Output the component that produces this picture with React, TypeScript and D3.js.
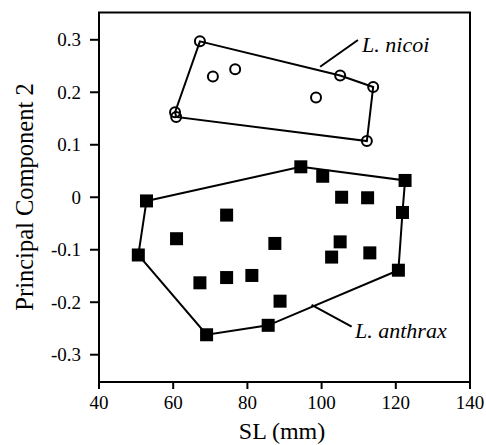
import React from "react";
import * as d3 from "d3";

const nicoiPoints: [number, number][] = [
  [67.2, 0.297],
  [60.5, 0.162],
  [60.8, 0.153],
  [70.7, 0.23],
  [76.7, 0.244],
  [105.0, 0.232],
  [113.9, 0.21],
  [98.5, 0.19],
  [112.2, 0.107],
];

const anthraxPoints: [number, number][] = [
  [94.4, 0.058],
  [100.3, 0.04],
  [122.5, 0.032],
  [105.4, 0.0],
  [112.4, -0.001],
  [121.8, -0.029],
  [52.8, -0.007],
  [74.4, -0.034],
  [60.9, -0.079],
  [50.6, -0.11],
  [67.2, -0.163],
  [74.4, -0.153],
  [81.2, -0.149],
  [69.0, -0.262],
  [87.4, -0.088],
  [88.8, -0.198],
  [85.6, -0.244],
  [105.0, -0.085],
  [102.7, -0.114],
  [113.0, -0.106],
  [120.7, -0.139],
];

const nicoiHull: [number, number][] = [
  [67.2, 0.297],
  [105.0, 0.232],
  [113.9, 0.21],
  [112.2, 0.107],
  [60.8, 0.153],
  [60.5, 0.162],
];

const anthraxHull: [number, number][] = [
  [52.8, -0.007],
  [94.4, 0.058],
  [122.5, 0.032],
  [121.8, -0.029],
  [120.7, -0.139],
  [85.6, -0.244],
  [69.0, -0.262],
  [50.6, -0.11],
];

const xTicks = [40, 60, 80, 100, 120, 140];
const yTicks = [0.3, 0.2, 0.1, 0, -0.1, -0.2, -0.3];
const yTickLabels = ["0.3", "0.2", "0.1", "0", "-0.1", "-0.2", "-0.3"];

const labels = [
  { text: "L. nicoi", at: [110.9, 0.2776], leader: [[109.8, 0.2995], [99.6, 0.2487]] },
  { text: "L. anthrax", at: [109.0, -0.268], leader: [[108.1, -0.2466], [97.3, -0.2052]] },
];

const xTitle = "SL (mm)";
const yTitle = "Principal Component 2";

export default function App() {
  const W = 486;
  const H = 445;
  const x = d3.scaleLinear().domain([40, 140]).range([99, 470]);
  const y = d3.scaleLinear().domain([-0.352, 0.352]).range([382, 12.5]);
  const line = d3
    .line<[number, number]>()
    .x((d) => x(d[0]))
    .y((d) => y(d[1]))
    .curve(d3.curveLinearClosed);
  const ff = { fontFamily: "Liberation Serif, DejaVu Serif, serif" };
  const sq = 13;

  return (
    <svg
      width={W}
      height={H}
      style={{ position: "absolute", left: 0, top: 0, background: "#fff" }}
    >
      <rect x={0} y={0} width={W} height={H} fill="#fff" />
      <rect
        x={x(40)}
        y={y(0.352)}
        width={x(140) - x(40)}
        height={y(-0.352) - y(0.352)}
        fill="none"
        stroke="#000"
        strokeWidth={2}
      />
      {xTicks.map((t) => (
        <g key={"xt" + t}>
          <line x1={x(t)} x2={x(t)} y1={y(-0.352)} y2={y(-0.352) + 7} stroke="#000" strokeWidth={2} />
          <text x={x(t)} y={409} textAnchor="middle" fontSize={19} style={ff}>
            {t}
          </text>
        </g>
      ))}
      {yTicks.map((t, i) => (
        <g key={"yt" + t}>
          <line x1={x(40) - 9} x2={x(40)} y1={y(t)} y2={y(t)} stroke="#000" strokeWidth={2} />
          <text x={81} y={y(t)} dy="0.35em" textAnchor="end" fontSize={19} style={ff}>
            {yTickLabels[i]}
          </text>
        </g>
      ))}
      <text x={282} y={439} textAnchor="middle" fontSize={24} style={ff}>
        {xTitle}
      </text>
      <text transform={`translate(33, 197) rotate(-90)`} textAnchor="middle" fontSize={24.5} style={ff}>
        {yTitle}
      </text>
      <path d={line(nicoiHull) || ""} fill="none" stroke="#000" strokeWidth={2} />
      <path d={line(anthraxHull) || ""} fill="none" stroke="#000" strokeWidth={2} />
      {nicoiPoints.map((p, i) => (
        <circle key={"n" + i} cx={x(p[0])} cy={y(p[1])} r={5} fill="none" stroke="#000" strokeWidth={2} />
      ))}
      {anthraxPoints.map((p, i) => (
        <rect key={"a" + i} x={x(p[0]) - sq / 2} y={y(p[1]) - sq / 2} width={sq} height={sq} fill="#000" />
      ))}
      {labels.map((l) => (
        <g key={l.text}>
          <line
            x1={x(l.leader[0][0])}
            y1={y(l.leader[0][1])}
            x2={x(l.leader[1][0])}
            y2={y(l.leader[1][1])}
            stroke="#000"
            strokeWidth={2}
          />
          <text x={x(l.at[0])} y={y(l.at[1])} fontSize={22} fontStyle="italic" style={ff}>
            {l.text}
          </text>
        </g>
      ))}
    </svg>
  );
}
